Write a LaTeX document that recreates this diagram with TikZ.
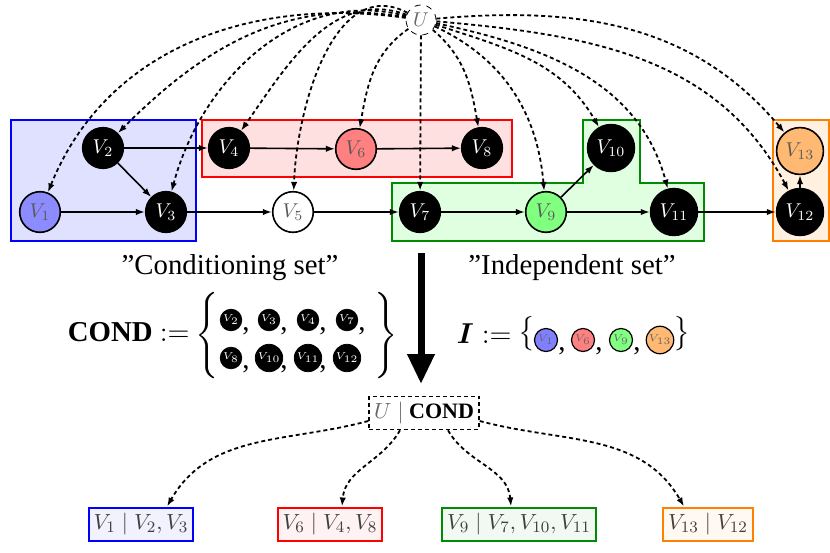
\documentclass[tikz,border=0pt]{standalone}
\usepackage{amsmath}
\usepackage{fontspec}
\setmainfont{Liberation Serif}
\usetikzlibrary{arrows.meta}
\definecolor{gborder}{RGB}{0,140,0}
\tikzset{
  vb/.style={circle,draw=black,fill=black,text=white,minimum size=18pt,inner sep=2.5pt,thick},
  vc/.style={circle,draw=black,fill=#1,text=black!65,minimum size=18pt,inner sep=2.5pt,thick},
  sb/.style={circle,draw=black,fill=black,text=white,minimum size=10pt,inner sep=0.5pt,font=\tiny},
  sc/.style={circle,draw=black,fill=#1,text=black!60,minimum size=11.5pt,inner sep=0.5pt,font=\tiny,semithick},
  ed/.style={-{Latex[length=4.5pt,width=3.2pt]},thick},
  ud/.style={-{Latex[length=4.5pt,width=3.2pt]},line width=0.9pt,dash pattern=on 2pt off 1.5pt},
  grp/.style={line width=1pt,draw=#1,fill=#1!12},
  bx/.style={draw=#1,fill=#1!5,line width=1pt,font=\fontsize{11}{13}\selectfont,text=black!75,inner sep=2.5pt,minimum height=16.5pt},
  commanode/.style={font=\Large,inner sep=0pt,anchor=base west},
}
\begin{document}
\begin{tikzpicture}[x=0.5pt,y=0.5pt]
\useasboundingbox (0,0) rectangle (830,-552);
% groups
\path[grp=blue] (11,-120) rectangle (196,-241);
\path[grp=red] (202,-120) rectangle (512,-177);
\path[line width=1pt,draw=gborder,fill=green!12] (392,-183) -- (583,-183) -- (583,-120) -- (640,-120) -- (640,-183) -- (704,-183) -- (704,-241) -- (392,-241) -- cycle;
\path[grp=orange] (773,-120) rectangle (829,-241);
% nodes
\node[circle,draw=black,dashed,thin,fill=white,text=black!60,minimum size=15pt,inner sep=1pt] (U) at (421,-20) {$U$};
\node[vc=blue!45] (V1) at (40,-212) {$V_1$};
\node[vb] (V2) at (103,-148) {$V_2$};
\node[vb] (V3) at (166,-212) {$V_3$};
\node[vb] (V4) at (229,-148) {$V_4$};
\node[vc=white] (V5) at (293,-212) {$V_5$};
\node[vc=red!50] (V6) at (356,-149) {$V_6$};
\node[vb] (V7) at (420,-212) {$V_7$};
\node[vb] (V8) at (482,-148) {$V_8$};
\node[vc=green!50] (V9) at (546,-212) {$V_9$};
\node[vb] (V10) at (611,-148) {$V_{10}$};
\node[vb] (V11) at (674,-212) {$V_{11}$};
\node[vb] (V12) at (800,-212) {$V_{12}$};
\node[vc=orange!55] (V13) at (800,-151) {$V_{13}$};
% edges
\draw[ed] (V2) -- (V4);
\draw[ed] (V4) -- (V6);
\draw[ed] (V6) -- (V8);
\draw[ed] (V2) -- (V3);
\draw[ed] (V1) -- (V3);
\draw[ed] (V3) -- (V5);
\draw[ed] (V5) -- (V7);
\draw[ed] (V7) -- (V9);
\draw[ed] (V9) -- (V10);
\draw[ed] (V9) -- (V11);
\draw[ed] (V11) -- (V12);
\draw[ed] (V12) -- (V13);
% confounder
\draw[ud] (U) to[out=172,in=68] (V1);
\draw[ud] (U) to[out=170,in=45] (V2);
\draw[ud] (U) to[out=165,in=75] (V3);
\draw[ud] (U) to[out=160,in=55] (V4);
\draw[ud] (U) to[out=152,in=88] (V5);
\draw[ud] (U) to[out=215,in=80] (V6);
\draw[ud] (U) -- (V7);
\draw[ud] (U) to[out=-40,in=100] (V8);
\draw[ud] (U) to[out=-25,in=95] (V9);
\draw[ud] (U) to[out=-18,in=120] (V10);
\draw[ud] (U) to[out=-12,in=105] (V11);
\draw[ud] (U) to[out=-5,in=118] (V12);
\draw[ud] (U) to[out=5,in=130] (V13);
% labels
\node[font=\Large] (condlabel) at (230,-268) {''Conditioning set''};
\node[font=\Large] (indeplabel) at (572,-268) {''Independent set''};
\node[font=\Large,anchor=east,inner sep=0pt] (condeq) at (190,-332) {\textbf{COND} $:=$};
\node[font=\Large,inner sep=0pt] (lb1) at (208,-336) {$\left\{\rule[-18pt]{0pt}{36pt}\right.$};
\node[font=\Large,inner sep=0pt] (rb1) at (385,-336) {$\left.\rule[-18pt]{0pt}{36pt}\right\}$};
\node[sb] (c2) at (231,-320) {$V_2$};
\node[sb] (c3) at (269,-320) {$V_3$};
\node[sb] (c4) at (308,-320) {$V_4$};
\node[sb] (c7) at (347,-320) {$V_7$};
\node[sb] (c8) at (231,-358) {$V_8$};
\node[sb] (c10) at (269,-358) {$V_{10}$};
\node[sb] (c11) at (308,-358) {$V_{11}$};
\node[sb] (c12) at (347,-358) {$V_{12}$};
\node[commanode] at (242,-330) {,};
\node[commanode] at (280,-330) {,};
\node[commanode] at (319,-330) {,};
\node[commanode] at (358,-330) {,};
\node[commanode] at (242,-368) {,};
\node[commanode] at (280,-368) {,};
\node[commanode] at (319,-368) {,};
\node[font=\Large,anchor=east,inner sep=0pt] (ieq) at (512,-334) {$\boldsymbol{I} :=$};
\node[font=\Large,inner sep=0pt] (lb2) at (527,-334) {$\bigl\{$};
\node[font=\Large,inner sep=0pt] (rb2) at (682,-334) {$\bigr\}$};
\node[sc=blue!50] (i1) at (546,-340) {$V_1$};
\node[sc=red!50] (i6) at (583,-340) {$V_6$};
\node[sc=green!50] (i9) at (621,-340) {$V_9$};
\node[sc=orange!55] (i13) at (660,-340) {$V_{13}$};
\node[commanode] at (558,-350) {,};
\node[commanode] at (595,-350) {,};
\node[commanode] at (633,-350) {,};
% big arrow
\coordinate (ba1) at (421,-253);
\coordinate (ba2) at (421,-384);
\draw[line width=3.5pt,-{Triangle[length=15pt,width=13pt]}] (ba1) -- (ba2);
% bottom
\node[draw=black,thick,dash pattern=on 2pt off 1.5pt,font=\fontsize{11}{13}\selectfont,inner sep=2.5pt,minimum height=16.5pt] (UC) at (424,-413) {$\color{black!60}U \mid$ \textbf{COND}};
\node[bx=blue] (B1) at (141,-524) {$V_1 \mid V_2, V_3$};
\node[bx=red] (B2) at (330,-524) {$V_6 \mid V_4, V_8$};
\node[bx=gborder] (B3) at (519,-524) {$V_9 \mid V_7, V_{10}, V_{11}$};
\node[bx=orange] (B4) at (708,-524) {$V_{13} \mid V_{12}$};
\coordinate (s1) at ([yshift=-4pt]UC.west);
\coordinate (s4) at ([yshift=-4pt]UC.east);
\draw[ud] (s1) to[out=195,in=60] ([xshift=13pt]B1.north);
\draw[ud] ([xshift=-12pt]UC.south) to[out=240,in=85] ([xshift=6pt]B2.north);
\draw[ud] ([xshift=12pt]UC.south) to[out=-60,in=95] ([xshift=-4pt]B3.north);
\draw[ud] (s4) to[out=-15,in=120] ([xshift=-12pt]B4.north);
\end{tikzpicture}
\end{document}
